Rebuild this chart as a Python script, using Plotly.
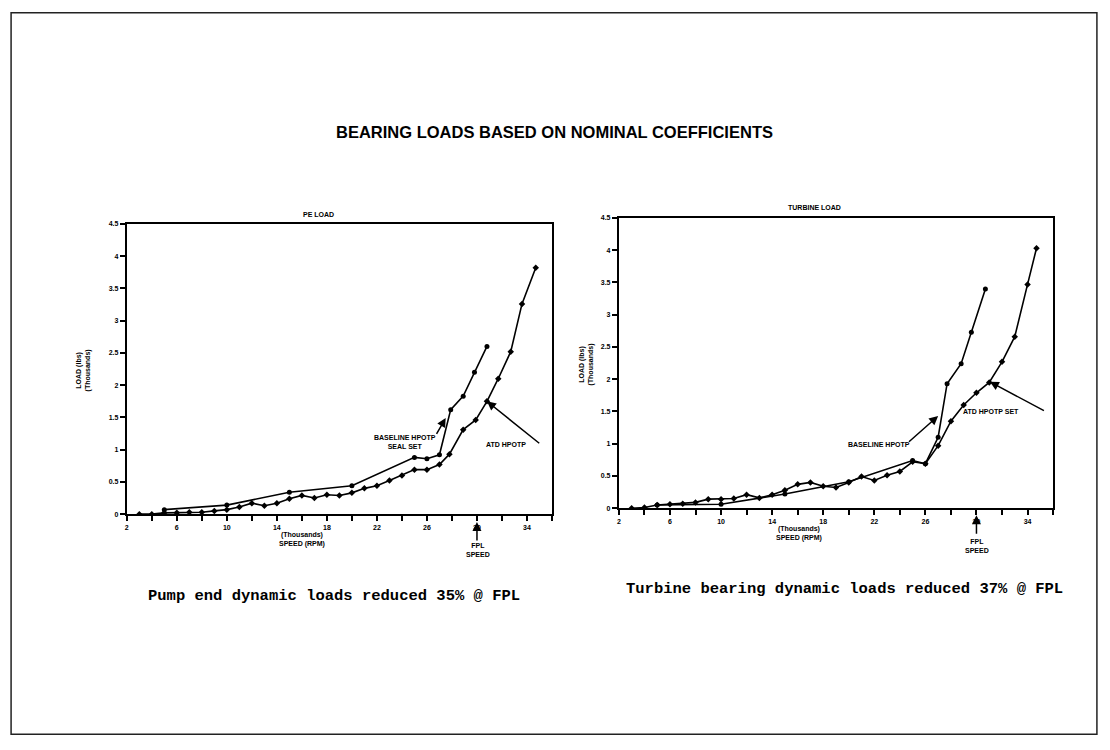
import plotly.graph_objects as go

# ---------------- data ----------------
# Left chart: pump end bearing loads (Thousands lbs) vs speed (Thousands RPM)
pe_speed_a = [5, 10, 15, 20, 25, 26, 27, 27.9, 28.9, 29.8, 30.8]
pe_load_a = [0.07, 0.14, 0.34, 0.44, 0.88, 0.86, 0.92, 1.62, 1.83, 2.2, 2.6]

pe_speed_b = [3, 4, 5, 6, 7, 8, 9, 10, 11, 12, 13, 14, 15, 16, 17, 18, 19, 20,
              21, 22, 23, 24, 25, 26, 27, 27.8, 28.9, 29.9, 30.8, 31.7, 32.7, 33.6, 34.7]
pe_load_b = [0.0, 0.0, 0.02, 0.02, 0.03, 0.03, 0.05, 0.07, 0.11, 0.17, 0.13, 0.17, 0.24, 0.29,
             0.25, 0.30, 0.29, 0.33, 0.40, 0.44, 0.52, 0.60, 0.69, 0.69, 0.77, 0.93,
             1.31, 1.46, 1.75, 2.1, 2.52, 3.26, 3.82]

# Right chart: turbine bearing loads
tb_speed_a = [5, 10, 15, 20, 25, 26, 27, 27.7, 28.8, 29.6, 30.7]
tb_load_a = [0.05, 0.06, 0.22, 0.41, 0.74, 0.69, 1.1, 1.93, 2.24, 2.73, 3.4]

tb_speed_b = [3, 4, 5, 6, 7, 8, 9, 10, 11, 12, 13, 14, 15, 16, 17, 18, 19, 20,
              21, 22, 23, 24, 25, 26, 27, 28, 29, 30, 31, 32, 33, 34, 34.7]
tb_load_b = [0.0, 0.01, 0.05, 0.06, 0.07, 0.09, 0.14, 0.14, 0.15, 0.21, 0.16, 0.21, 0.28,
             0.37, 0.40, 0.34, 0.32, 0.40, 0.49, 0.43, 0.51, 0.57, 0.72, 0.69, 0.97,
             1.35, 1.6, 1.79, 1.95, 2.27, 2.66, 3.47, 4.03]

x_ticks = [2, 6, 10, 14, 18, 22, 26, 30, 34]
y_ticks = [0, 0.5, 1, 1.5, 2, 2.5, 3, 3.5, 4, 4.5]
y_tick_text = ["0", "0.5", "1", "1.5", "2", "2.5", "3", "3.5", "4", "4.5"]

# page offset of the figure inside the browser window
OFF = 10
W, H = 1090, 730


def px(x):
    return (x - OFF) / W


def py(y):
    return 1 - (y - OFF) / H


fig = go.Figure()

line_style = dict(color="black", width=1.6)
for xs, ys, ax_x, ax_y, sym in [
    (pe_speed_a, pe_load_a, "x", "y", "circle"),
    (pe_speed_b, pe_load_b, "x", "y", "diamond"),
    (tb_speed_a, tb_load_a, "x2", "y2", "circle"),
    (tb_speed_b, tb_load_b, "x2", "y2", "diamond"),
]:
    fig.add_trace(go.Scatter(x=xs, y=ys, xaxis=ax_x, yaxis=ax_y, mode="lines+markers",
                             line=line_style, marker=dict(symbol=sym, size=5, color="black"),
                             showlegend=False, hoverinfo="skip"))

tickfont = dict(family="Liberation Sans", size=7, color="black", weight="bold")
common_x = dict(range=[2, 36], tickmode="array", tickvals=x_ticks, ticktext=[str(v) for v in x_ticks],
                showline=True, linecolor="black", linewidth=2, mirror=True, ticks="outside",
                ticklen=5, tickwidth=1.5, tickcolor="black", showgrid=False, zeroline=False,
                tickfont=tickfont, minor=dict(dtick=2, tick0=2, ticks="outside", ticklen=5,
                                              tickwidth=1.5, tickcolor="black", showgrid=False))
common_y = dict(range=[0, 4.5], tickmode="array", tickvals=y_ticks, ticktext=y_tick_text,
                showline=True, linecolor="black", linewidth=2, mirror=True, ticks="outside",
                ticklen=5, tickwidth=1.5, tickcolor="black", showgrid=False, zeroline=False,
                tickfont=tickfont)

fig.update_layout(
    width=W, height=H, margin=dict(l=0, r=0, t=0, b=0),
    paper_bgcolor="white", plot_bgcolor="white",
    xaxis=dict(domain=[px(127), px(553)], anchor="y", **common_x),
    yaxis=dict(domain=[py(517), py(224)], anchor="x", **common_y),
    xaxis2=dict(domain=[px(620), px(1055)], anchor="y2", **common_x),
    yaxis2=dict(domain=[py(511), py(218)], anchor="x2", **common_y),
)

small = dict(family="Liberation Sans", size=7, color="black", weight="bold")
anns = []


def text_at(x, y, t, font=small, xanchor="center", angle=0):
    anns.append(dict(x=px(x), y=py(y), xref="paper", yref="paper", text=t, showarrow=False,
                     font=font, xanchor=xanchor, yanchor="middle", textangle=angle, align="center"))


# main title
text_at(555, 131, "BEARING LOADS BASED ON NOMINAL COEFFICIENTS",
        font=dict(family="Liberation Sans", size=16.5, color="black", weight="bold"))
# subplot titles
text_at(319, 214, "PE LOAD")
text_at(816, 207, "TURBINE LOAD")
# y-axis titles
text_at(84, 372, "LOAD (lbs)<br>(Thousands)", angle=-90)
text_at(588, 366, "LOAD (lbs)<br>(Thousands)", angle=-90)
# x-axis titles
text_at(303, 543, "(Thousands)<br>SPEED (RPM)")
text_at(800, 537, "(Thousands)<br>SPEED (RPM)")
# FPL labels
text_at(479, 553, "FPL<br>SPEED")
text_at(979, 549, "FPL<br>SPEED")
# captions
cap = dict(family="Liberation Mono", size=15.5, color="black", weight="bold")
text_at(335, 600, "Pump end dynamic loads reduced 35% @ FPL", font=cap)
text_at(846, 593, "Turbine bearing dynamic loads reduced 37% @ FPL", font=cap)
# curve labels
text_at(406, 444, "BASELINE HPOTP<br>SEAL SET")
text_at(507, 447, "ATD HPOTP")
text_at(881, 447, "BASELINE HPOTP")
text_at(993, 413, "ATD HPOTP SET")

# FPL arrows
for xa, yhead, xr in [(30, 525, "x"), (30, 518, "x2")]:
    anns.append(dict(x=xa, y=py(yhead), xref=xr, yref="paper", ax=0, ay=20, axref="pixel",
                     ayref="pixel", text="", showarrow=True, arrowhead=2, arrowsize=1.2,
                     arrowwidth=1.5, arrowcolor="black"))

# curve label arrows (data coordinates)
for xr, yr, xt, yt, xh, yh in [
    ("x", "y", 26.7, 1.22, 27.5, 1.49),
    ("x", "y", 35.1, 1.08, 30.8, 1.75),
    ("x2", "y2", 24.6, 1.01, 27.0, 1.43),
    ("x2", "y2", 35.4, 1.5, 31.05, 1.96),
]:
    anns.append(dict(x=xh, y=yh, xref=xr, yref=yr, ax=xt, ay=yt, axref=xr, ayref=yr, text="",
                     showarrow=True, arrowhead=2, arrowsize=1.2, arrowwidth=1.5,
                     arrowcolor="black"))

fig.update_layout(annotations=anns)

# page frame (kept just inside the figure area)
fig.add_shape(type="rect", xref="paper", yref="paper", x0=0.001, x1=0.999, y0=0.001, y1=0.999,
              line=dict(color="#222", width=1.5))

fig.write_html("out.html")
